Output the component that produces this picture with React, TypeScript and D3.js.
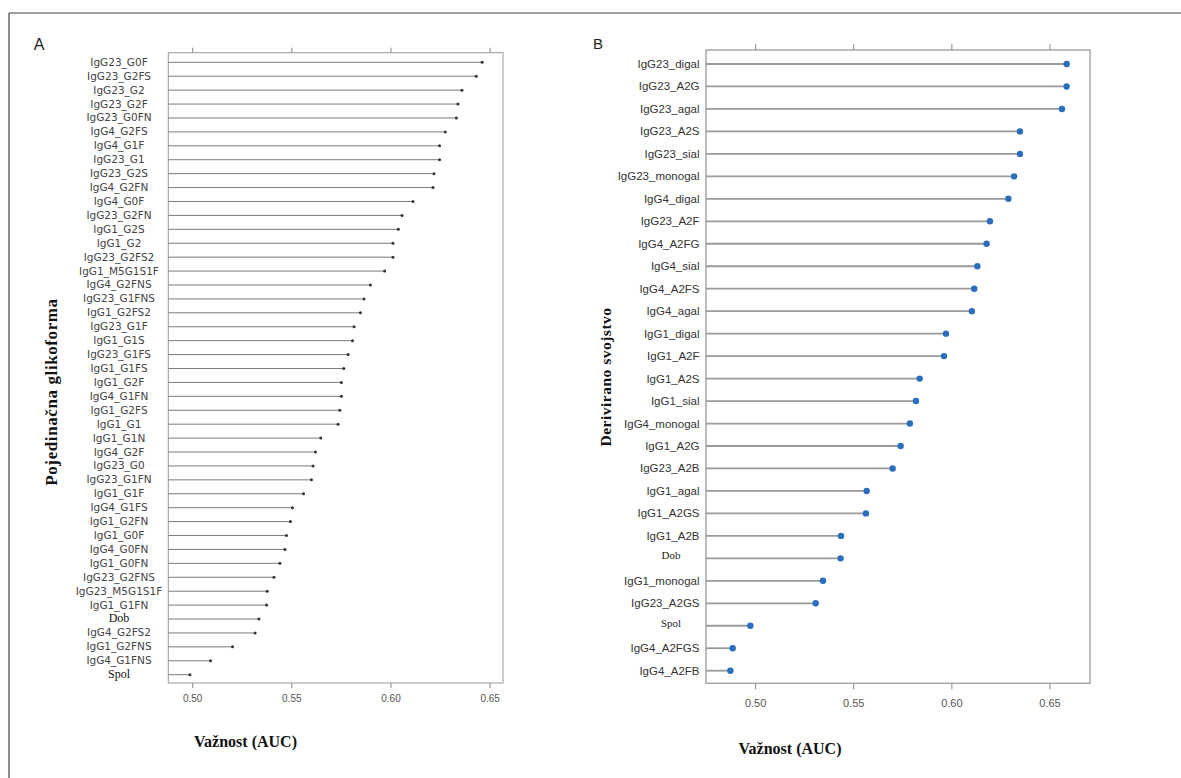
import React from "react";
import * as d3 from "d3";

const labelsA = [
  "IgG23_G0F", "IgG23_G2FS", "IgG23_G2", "IgG23_G2F", "IgG23_G0FN", "IgG4_G2FS", "IgG4_G1F", "IgG23_G1",
  "IgG23_G2S", "IgG4_G2FN", "IgG4_G0F", "IgG23_G2FN", "IgG1_G2S", "IgG1_G2", "IgG23_G2FS2", "IgG1_M5G1S1F",
  "IgG4_G2FNS", "IgG23_G1FNS", "IgG1_G2FS2", "IgG23_G1F", "IgG1_G1S", "IgG23_G1FS", "IgG1_G1FS", "IgG1_G2F",
  "IgG4_G1FN", "IgG1_G2FS", "IgG1_G1", "IgG1_G1N", "IgG4_G2F", "IgG23_G0", "IgG23_G1FN", "IgG1_G1F",
  "IgG4_G1FS", "IgG1_G2FN", "IgG1_G0F", "IgG4_G0FN", "IgG1_G0FN", "IgG23_G2FNS", "IgG23_M5G1S1F", "IgG1_G1FN",
  "Dob", "IgG4_G2FS2", "IgG1_G2FNS", "IgG4_G1FNS", "Spol",
];
const valuesA = [
  0.646, 0.643, 0.6358, 0.6338, 0.633, 0.6274, 0.6245, 0.6245,
  0.6217, 0.6212, 0.6111, 0.6056, 0.6037, 0.601, 0.601, 0.5968,
  0.5896, 0.5864, 0.5846, 0.5814, 0.5806, 0.5784, 0.5762, 0.575,
  0.575, 0.5742, 0.5733, 0.5646, 0.5619, 0.5607, 0.5599, 0.5559,
  0.5503, 0.5493, 0.5473, 0.5465, 0.544, 0.541, 0.5376, 0.5373,
  0.5334, 0.5315, 0.5201, 0.509, 0.4986,
];

const labelsB = [
  "IgG23_digal", "IgG23_A2G", "IgG23_agal", "IgG23_A2S", "IgG23_sial", "IgG23_monogal", "IgG4_digal",
  "IgG23_A2F", "IgG4_A2FG", "IgG4_sial", "IgG4_A2FS", "IgG4_agal", "IgG1_digal", "IgG1_A2F",
  "IgG1_A2S", "IgG1_sial", "IgG4_monogal", "IgG1_A2G", "IgG23_A2B", "IgG1_agal", "IgG1_A2GS",
  "IgG1_A2B", "Dob", "IgG1_monogal", "IgG23_A2GS", "Spol", "IgG4_A2FGS", "IgG4_A2FB",
];
const valuesB = [
  0.6585, 0.6585, 0.6561, 0.6347, 0.6347, 0.6317, 0.6288,
  0.6194, 0.6177, 0.613, 0.6114, 0.6102, 0.597, 0.596,
  0.5836, 0.5817, 0.5786, 0.5739, 0.5698, 0.5566, 0.5562,
  0.5435, 0.5433, 0.5343, 0.5306, 0.4973, 0.4883, 0.4871,
];

const tickValues = [0.5, 0.55, 0.6, 0.65];
const xTitle = "Važnost (AUC)";
const yTitleA = "Pojedinačna glikoforma";
const yTitleB = "Derivirano svojstvo";
const serifLabels = ["Dob", "Spol"];

const SANS = "'Liberation Sans', Arial, sans-serif";
const SERIF = "'Liberation Serif', 'Times New Roman', serif";

function PanelA() {
  const box = { l: 168.3, r: 503, t: 52.7, b: 683 };
  const x = d3.scaleLinear().domain([0.4877, 0.6565]).range([box.l, box.r]);
  const y = d3.scalePoint<string>().domain(labelsA).range([62.3, 674.7]);
  return (
    <g>
      <text x={39} y={50} fontFamily={SANS} fontSize={16} fill="#222" textAnchor="middle">A</text>
      <rect x={box.l} y={box.t} width={box.r - box.l} height={box.b - box.t} fill="none" stroke="#9a9a9a" strokeWidth={1} />
      {tickValues.map((t) => (
        <g key={t}>
          <line x1={x(t)} x2={x(t)} y1={box.t} y2={box.t - 5} stroke="#888" />
          <line x1={x(t)} x2={x(t)} y1={box.b} y2={box.b + 5} stroke="#888" />
          <text x={x(t)} y={702} fontFamily={SANS} fontSize={10} fill="#555" textAnchor="middle">
            {d3.format(".2f")(t)}
          </text>
        </g>
      ))}
      {labelsA.map((lab, i) => {
        const yy = y(lab)!;
        const serif = serifLabels.includes(lab);
        return (
          <g key={lab}>
            <line x1={box.l} x2={x(valuesA[i])} y1={yy} y2={yy} stroke="#7a7a7a" strokeWidth={1} />
            <circle cx={x(valuesA[i])} cy={yy} r={1.5} fill="#333" />
            <text
              x={119}
              y={yy + (serif ? 3 : 3.5)}
              fontFamily={serif ? SERIF : "'DejaVu Sans', sans-serif"}
              fontSize={serif ? 12 : 10.5}
              fill={serif ? "#111" : "#444"}
              textAnchor="middle"
            >
              {lab}
            </text>
          </g>
        );
      })}
      <text x={245.5} y={747} fontFamily={SERIF} fontWeight="bold" fontSize={16} fill="#111" textAnchor="middle">
        {xTitle}
      </text>
      <text
        transform="translate(57,392) rotate(-90)"
        fontFamily={SERIF}
        fontWeight="bold"
        fontSize={17}
        fill="#111"
        textAnchor="middle"
        letterSpacing={0.6}
      >
        {yTitleA}
      </text>
    </g>
  );
}

function PanelB() {
  const box = { l: 706, r: 1090, t: 50, b: 683.3 };
  const x = d3.scaleLinear().domain([0.4747, 0.6704]).range([box.l, box.r]);
  const y = d3.scalePoint<string>().domain(labelsB).range([64, 670.7]);
  return (
    <g>
      <text x={598} y={49} fontFamily={SANS} fontSize={15} fill="#222" textAnchor="middle">B</text>
      <rect x={box.l} y={box.t} width={box.r - box.l} height={box.b - box.t} fill="none" stroke="#a8a8a8" strokeWidth={1.5} />
      {tickValues.map((t) => (
        <g key={t}>
          <line x1={x(t)} x2={x(t)} y1={box.t} y2={box.t - 6} stroke="#888" />
          <line x1={x(t)} x2={x(t)} y1={box.b} y2={box.b + 6} stroke="#888" />
          <text x={x(t)} y={707} fontFamily={SANS} fontSize={11} fill="#555" textAnchor="middle">
            {d3.format(".2f")(t)}
          </text>
        </g>
      ))}
      {labelsB.map((lab, i) => {
        const yy = y(lab)!;
        const serif = serifLabels.includes(lab);
        return (
          <g key={lab}>
            <line x1={box.l} x2={x(valuesB[i])} y1={yy} y2={yy} stroke="#9a9a9a" strokeWidth={1.8} />
            <circle cx={x(valuesB[i])} cy={yy} r={3.2} fill="#2a6ebd" />
            {serif ? (
              <text x={671} y={yy + 1} fontFamily={SERIF} fontSize={11} fill="#222" textAnchor="middle">
                {lab}
              </text>
            ) : (
              <text x={699.5} y={yy + 4} fontFamily={SANS} fontSize={11.5} fill="#333" textAnchor="end">
                {lab}
              </text>
            )}
          </g>
        );
      })}
      <text x={790} y={754} fontFamily={SERIF} fontWeight="bold" fontSize={16} fill="#111" textAnchor="middle">
        {xTitle}
      </text>
      <text
        transform="translate(611,377) rotate(-90)"
        fontFamily={SERIF}
        fontWeight="bold"
        fontSize={15.5}
        fill="#111"
        textAnchor="middle"
        letterSpacing={0.5}
      >
        {yTitleB}
      </text>
    </g>
  );
}

export default function App() {
  return (
    <svg
      width={1181}
      height={778}
      style={{ position: "absolute", left: 0, top: 0, display: "block", background: "#fff" }}
    >
      <rect x={0} y={0} width={1181} height={778} fill="#fff" />
      <line x1={9} x2={1181} y1={13} y2={13} stroke="#444" strokeWidth={1.2} />
      <line x1={9} x2={9} y1={13} y2={778} stroke="#444" strokeWidth={1.2} />
      <PanelA />
      <PanelB />
    </svg>
  );
}
